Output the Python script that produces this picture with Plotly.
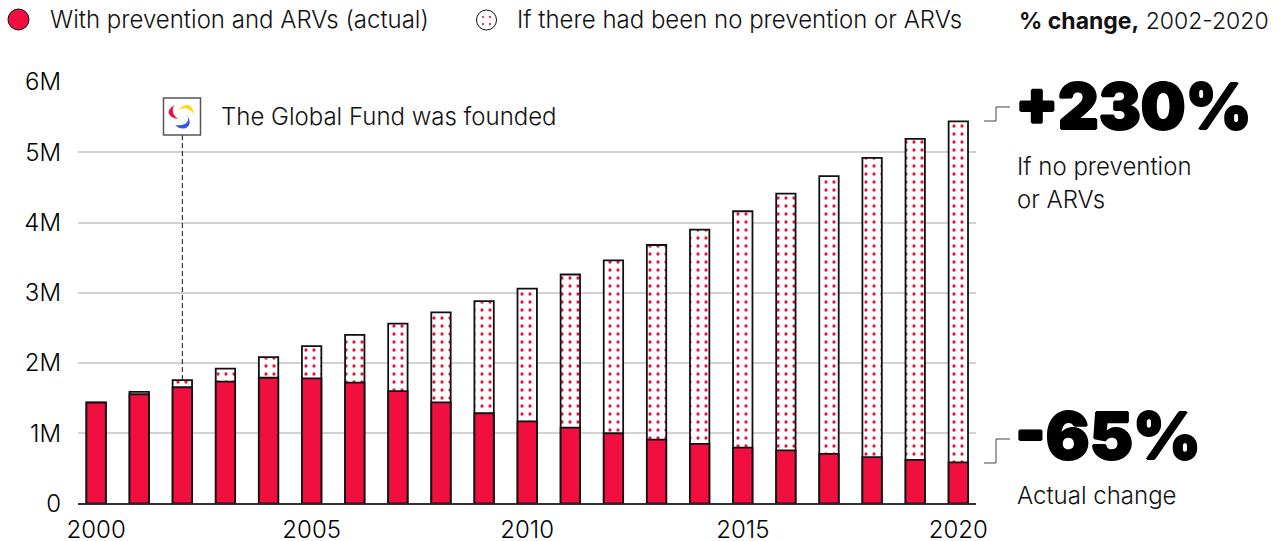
import plotly.graph_objects as go

years = list(range(2000, 2021))
actual = [1.435, 1.555, 1.655, 1.735, 1.79, 1.78, 1.72, 1.60, 1.44, 1.285, 1.17, 1.08, 1.00, 0.91, 0.85, 0.795, 0.755, 0.705, 0.66, 0.62, 0.585]
no_prevention = [1.44, 1.59, 1.757, 1.92, 2.085, 2.24, 2.40, 2.56, 2.72, 2.88, 3.06, 3.26, 3.46, 3.68, 3.90, 4.16, 4.41, 4.66, 4.92, 5.19, 5.44]
y_ticks = [0, 1, 2, 3, 4, 5, 6]
y_labels = ["0", "1M", "2M", "3M", "4M", "5M", "6M"]
x_ticks = [2000, 2005, 2010, 2015, 2020]
legend_labels = ["With prevention and ARVs (actual)", "If there had been no prevention or ARVs"]

W, H = 1285, 541
RED = "#F00F3E"
INK = "#111111"
FONT = "Inter"


def px(x):
    return x / W


def py(y):
    return 1 - y / H


def P(x, y):
    return f"{px(x):.5f},{py(y):.5f}"


fig = go.Figure()
fig.add_bar(
    x=years, y=no_prevention, width=0.45, name=legend_labels[1], showlegend=False,
    marker=dict(color="white", line=dict(color=INK, width=1.8),
                pattern=dict(shape=".", fgcolor=RED, fgopacity=1, bgcolor="white", size=8, solidity=0.13)),
)
fig.add_bar(
    x=years, y=actual, width=0.45, name=legend_labels[0], showlegend=False,
    marker=dict(color=RED, line=dict(color=INK, width=1.8)),
)

shapes = []


def pshape(**k):
    shapes.append(dict(xref="paper", yref="paper", **k))


# legend swatches
pshape(type="circle", x0=px(8), x1=px(29), y0=py(30), y1=py(9), fillcolor=RED, line=dict(color=INK, width=1))
pshape(type="circle", x0=px(476.5), x1=px(496.5), y0=py(30), y1=py(10), fillcolor="white", line=dict(color=INK, width=1))
for dx, dy in [(483, 17), (490, 17), (483, 24), (490, 24)]:
    pshape(type="circle", x0=px(dx - 1.1), x1=px(dx + 1.1), y0=py(dy + 1.1), y1=py(dy - 1.1), fillcolor=RED, line=dict(width=0))

# founded marker
shapes.append(dict(type="line", xref="x", yref="y", x0=2002, x1=2002, y0=no_prevention[2], y1=5.3,
                   line=dict(color=INK, width=1, dash="5px,3px")))
pshape(type="rect", x0=px(163.5), x1=px(200.5), y0=py(135), y1=py(98), fillcolor="white", line=dict(color="#555555", width=1.5))
pshape(type="path", path=f"M {P(175,105)} Q {P(167,109)} {P(169,114)} Q {P(171,118)} {P(178,119)} Q {P(173,115)} {P(173,112)} Q {P(172,108)} {P(175,105)} Z",
       fillcolor=RED, line=dict(width=0))
pshape(type="path", path=f"M {P(178,111)} Q {P(183,104)} {P(188,105)} Q {P(193,107)} {P(194,114)} Q {P(190,109)} {P(185,108)} Q {P(181,108)} {P(178,111)} Z",
       fillcolor="#FFD60A", line=dict(width=0))
pshape(type="path", path=f"M {P(187,115)} Q {P(190,121)} {P(185,124)} Q {P(180,126)} {P(175,125)} Q {P(180,130)} {P(186,128)} Q {P(193,124)} {P(187,115)} Z",
       fillcolor="#3355EE", line=dict(width=0))

# elbows
for y1, y2 in [(121, 107), (463, 439)]:
    pshape(type="path", path=f"M {P(984,y1)} L {P(996,y1)} L {P(996,y2)} L {P(1010,y2)}", line=dict(color="#444444", width=1))

anns = []


def text(x, y, s, size, weight=300, anchor="left", color=INK, shadow=None):
    f = dict(family=FONT, size=size, weight=weight, color=color)
    if shadow:
        f["shadow"] = shadow
    anns.append(dict(xref="paper", yref="paper", x=px(x), y=py(y), text=s, showarrow=False,
                     xanchor=anchor, yanchor="middle", align="left", font=f))


THICK = "1px 0 0 #000, -1px 0 0 #000, 0 1px 0 #000, 0 -1px 0 #000"
text(48, 19, legend_labels[0], 24)
text(515, 19, legend_labels[1], 24)
text(1017, 21, "<b>% change,</b> 2002-2020", 23)
text(219, 116, "The Global Fund was founded", 24)
text(1013, 106, "+230%", 63, 900, color="#000000", shadow=THICK)
text(1015, 166, "If no prevention", 24)
text(1015, 199, "or ARVs", 24)
text(1013, 435, "-65%", 65, 900, color="#000000", shadow=THICK)
text(1015, 495, "Actual change", 24)

fig.update_layout(
    width=W, height=H, margin=dict(l=0, r=0, t=0, b=0),
    paper_bgcolor="white", plot_bgcolor="white", barmode="overlay", showlegend=False,
    shapes=shapes, annotations=anns, font=dict(family=FONT, color=INK),
    xaxis=dict(domain=[px(78), px(976)], range=[1999.58, 2020.41], tickvals=x_ticks, showgrid=False, automargin=False,
               zeroline=False, showline=False, ticks="", ticklabelstandoff=9, tickfont=dict(family=FONT, size=24, weight=300, color="#000000")),
    yaxis=dict(domain=[py(503.5), py(82)], range=[0, 6], tickvals=y_ticks, ticktext=y_labels, automargin=False,
               gridcolor="#D2D2D2", gridwidth=1.5, zeroline=True, zerolinecolor="#333333", zerolinewidth=1.5,
               showline=False, ticks="", ticklabelstandoff=16, tickfont=dict(family=FONT, size=24, weight=300, color="#000000")),
)
fig.write_html("out.html", post_script="document.body.style.margin='0';", config=dict(displayModeBar=False))
